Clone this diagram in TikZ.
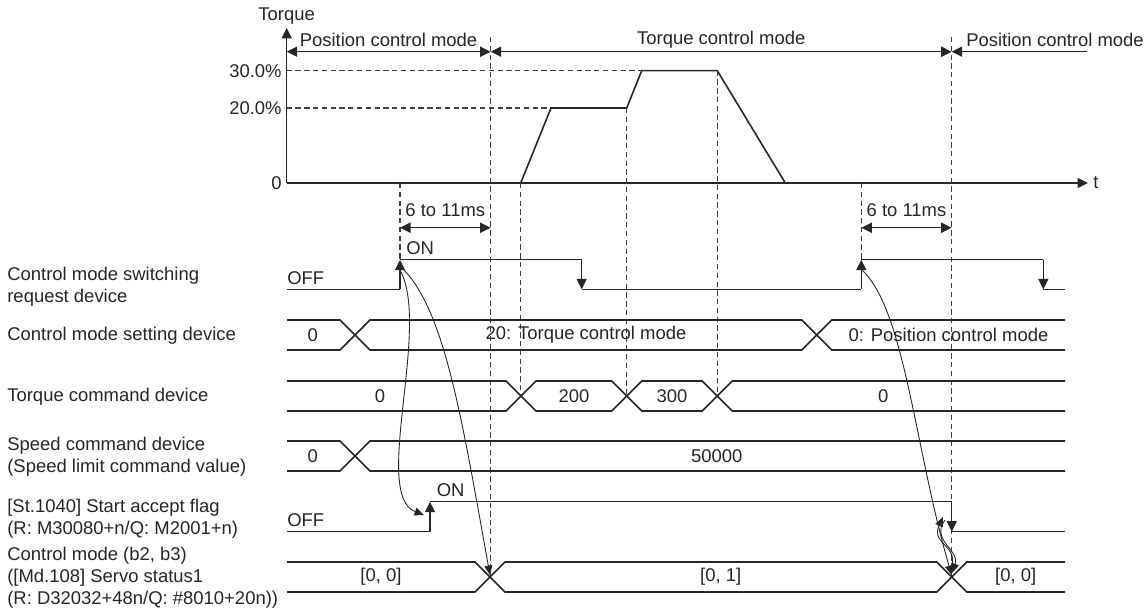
\documentclass[tikz,border=0pt]{standalone}
\usepackage{fontspec}
\setmainfont{Liberation Sans}
\usetikzlibrary{arrows.meta, positioning}
\tikzset{
  lbl/.style={font=\fontsize{10.5}{12.5}\selectfont, text=black!85, inner sep=0pt}
}
\tikzset{
  sidelbl/.style={lbl, anchor=west, align=left}
}

\begin{document}
\begin{tikzpicture}[x=0.02cm, y=-0.02cm, >={Triangle[length=2.1mm, width=2mm]},
    sig/.style={line width=0.9pt, draw=black!85},
    guide/.style={line width=0.7pt, draw=black!75, dash pattern=on 3pt off 2pt},
    link/.style={line width=0.5pt, draw=black!85, -{Triangle[length=1.9mm, width=1.6mm]}}]
      \useasboundingbox (0,0) rectangle (1147,611);

      % torque graph
      \coordinate (o) at (286.7,183);
      \coordinate (ytop) at (286.7,28);
      \coordinate (xend) at (1088,183);
      \draw[sig, ->] (o) -- (ytop);
      \draw[sig, ->] (o) -- (xend);
      \node[lbl] (tq) at (286.7,16) {Torque};
      \node[lbl, right=1mm of xend] (tt) {t};
      \node[lbl, anchor=east] (p30) at (282,70.7) {30.0\%};
      \node[lbl, anchor=east] (p20) at (282,108) {20.0\%};
      \node[lbl, anchor=east] (p0) at (282,183) {0};
      \draw[guide] (286.7,70.7) -- (641.7,70.7);
      \draw[guide] (286.7,108) -- (551,108);
      \draw[sig] (520.7,183) -- (551,108) -- (626.7,108) -- (641.7,70.7) -- (717.3,70.7) -- (785.3,183);

      % mode ranges
      \coordinate (m0) at (286.7,51.7);
      \coordinate (m1) at (490.7,51.7);
      \coordinate (m2) at (951.7,51.7);
      \coordinate (m3) at (1087,51.7);
      \draw[sig, <->] (m0) -- (m1);
      \draw[sig, <->] (m1) -- (m2);
      \draw[sig, <-] (m2) -- (m3);
      \node[lbl] (pcm1) at (388.5,40) {Position control mode};
      \node[lbl] (tcm) at (721.3,40) {Torque control mode};
      \node[lbl] (pcm2) at (1055,40) {Position control mode};

      % guide lines
      \draw[guide] (400,183) -- (400,259.7);
      \draw[guide] (490.7,37) -- (490.7,577);
      \draw[guide] (520.7,183) -- (520.7,396);
      \draw[guide] (626.7,108) -- (626.7,396);
      \draw[guide] (717.3,70.7) -- (717.3,396);
      \draw[guide] (861.3,183) -- (861.3,259.7);
      \draw[guide] (951.7,37) -- (951.7,577);

      % 6 to 11ms
      \draw[sig, <->] (400,227.7) -- (490.7,227.7);
      \node[lbl] (dly1) at (445.3,210) {6 to 11ms};
      \draw[sig, <->] (861.3,227.7) -- (951.7,227.7);
      \node[lbl] (dly2) at (906.5,210) {6 to 11ms};

      % signal names
      \node[sidelbl] (nreq) at (7,287) {Control mode switching\\request device};
      \node[sidelbl] (nset) at (7,336) {Control mode setting device};
      \node[sidelbl] (ntrq) at (7,396.7) {Torque command device};
      \node[sidelbl] (nspd) at (7,457) {Speed command device\\(Speed limit command value)};
      \node[sidelbl] (nacc) at (7,518.3) {[St.1040] Start accept flag\\(R: M30080+n/Q: M2001+n)};
      \node[sidelbl] (nmod) at (7,577.3) {Control mode (b2, b3)\\([Md.108] Servo status1\\(R: D32032+48n/Q: \#8010+20n))};

      % switching request
      \coordinate (rq1) at (400,259.7);
      \coordinate (rq2) at (581.7,289.3);
      \coordinate (rq3) at (861.3,259.7);
      \coordinate (rq4) at (1043.3,289.3);
      \draw[sig] (287,289.3) -- (400,289.3);
      \draw[sig, ->] (400,289.3) -- (rq1);
      \draw[sig] (rq1) -- (581.7,259.7);
      \draw[sig, ->] (581.7,259.7) -- (rq2);
      \draw[sig] (rq2) -- (861.3,289.3);
      \draw[sig, ->] (861.3,289.3) -- (rq3);
      \draw[sig] (rq3) -- (1043.3,259.7);
      \draw[sig, ->] (1043.3,259.7) -- (rq4);
      \draw[sig] (rq4) -- (1065,289.3);
      \node[lbl, anchor=west] (roff) at (287,278) {OFF};
      \node[lbl, anchor=west] (ron) at (406,248) {ON};

      % setting device
      \draw[sig] (287,320) -- (340,320) -- (370,350) -- (801.7,350) -- (831.7,320) -- (1065,320);
      \draw[sig] (287,350) -- (340,350) -- (370,320) -- (801.7,320) -- (831.7,350) -- (1065,350);
      \node[lbl] (s0) at (312.7,335) {0};
      \node[lbl] (s20) at (586,335) {20: Torque control mode};
      \node[lbl] (s00) at (948.5,335) {0: Position control mode};

      % torque command
      \draw[sig] (287,381) -- (506,381) -- (536,411) -- (611.7,411) -- (641.7,381) -- (702.3,381) -- (732.3,411) -- (1065,411);
      \draw[sig] (287,411) -- (506,411) -- (536,381) -- (611.7,381) -- (641.7,411) -- (702.3,411) -- (732.3,381) -- (1065,381);
      \node[lbl] (t0) at (380,396) {0};
      \node[lbl] (t200) at (574,396) {200};
      \node[lbl] (t300) at (672,396) {300};
      \node[lbl] (t0b) at (883.3,396) {0};

      % speed command
      \draw[sig] (287,441) -- (340,441) -- (370,471) -- (1065,471);
      \draw[sig] (287,471) -- (340,471) -- (370,441) -- (1065,441);
      \node[lbl] (v0) at (312.7,456) {0};
      \node[lbl] (v5) at (716.7,456) {50000};

      % start accept flag
      \coordinate (ac1) at (430,501.7);
      \coordinate (ac2) at (951.7,531.7);
      \draw[sig] (287,531.7) -- (430,531.7);
      \draw[sig, ->] (430,531.7) -- (ac1);
      \draw[sig] (ac1) -- (951.7,501.7);
      \draw[sig, ->] (951.7,501.7) -- (ac2);
      \draw[sig] (ac2) -- (1065,531.7);
      \node[lbl, anchor=west] (aoff) at (287,520) {OFF};
      \node[lbl] (aon) at (450.7,490) {ON};

      % control mode bits
      \draw[sig] (287,562) -- (475,562) -- (505,592) -- (936.7,592) -- (966.7,562) -- (1065,562);
      \draw[sig] (287,592) -- (475,592) -- (505,562) -- (936.7,562) -- (966.7,592) -- (1065,592);
      \node[lbl] (c00) at (381,577) {[0, 0]};
      \node[lbl] (c01) at (720.7,577) {[0, 1]};
      \node[lbl] (c00b) at (1015.7,577) {[0, 0]};
      \coordinate (cx1) at (490,575);
      \coordinate (cx2) at (951.7,575);

      % cause and effect
      \draw[link] (401,272) .. controls (430,330) and (372,495) .. (424,515);
      \draw[link] (402,268) .. controls (445,310) and (462,420) .. (cx1);
      \draw[link] (862,270) .. controls (905,310) and (915,450) .. (cx2);
      \draw[link] (950,572) .. controls (962,545) and (930,545) .. (943,517);
      \draw[link] (945,520) .. controls (930,540) and (960,550) .. (952,573);
    \end{tikzpicture}
\end{document}
